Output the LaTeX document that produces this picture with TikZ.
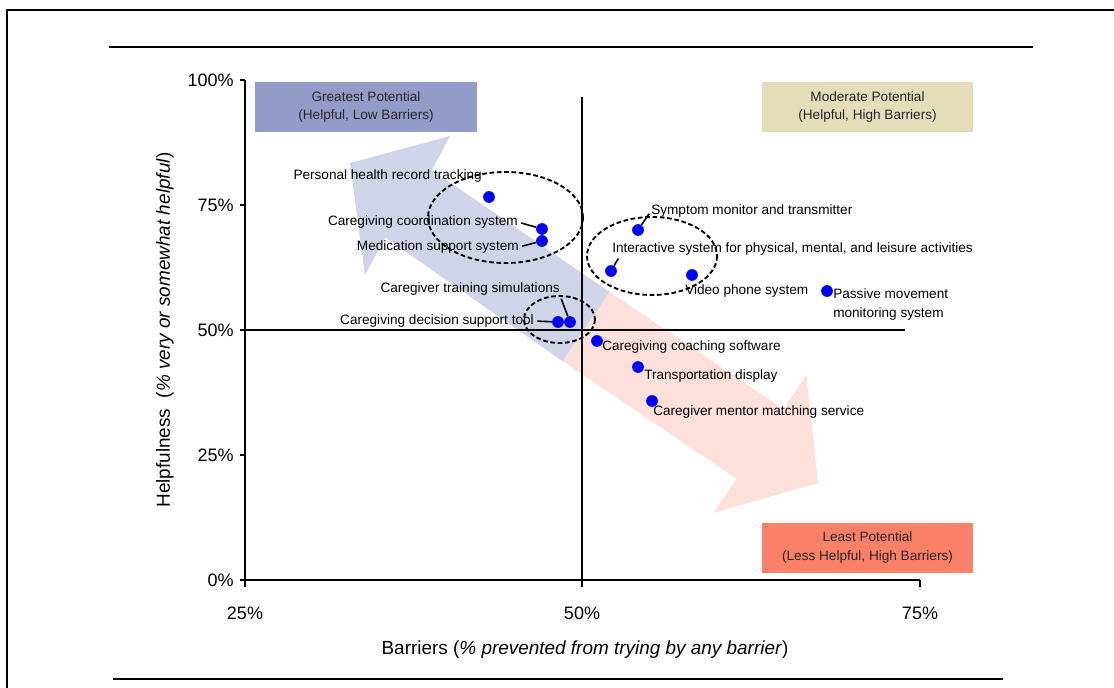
\documentclass[tikz,border=0pt]{standalone}
\usepackage{fontspec}
\setmainfont{Liberation Sans}
\usetikzlibrary{calc}
\definecolor{greatfill}{RGB}{147,156,200}
\definecolor{modfill}{RGB}{227,221,186}
\definecolor{leastfill}{RGB}{250,128,104}
\definecolor{bluearrow}{RGB}{207,212,232}
\definecolor{pinkarrow}{RGB}{253,224,218}
\definecolor{dotblue}{RGB}{0,0,255}
\tikzset{
  dot/.style={circle, fill=dotblue, inner sep=0pt, minimum size=8.8pt},
  lbl/.style={inner sep=0pt, font=\fontsize{10.2}{14}\selectfont},
  quad/.style={inner sep=0pt, align=center, minimum height=37.5pt,
    font=\fontsize{10.2}{14}\selectfont, text=black!85},
  ring/.style={draw, line width=1.4pt, dash pattern=on 3.5pt off 2pt},
  leader/.style={line width=1.2pt, shorten <=2.5pt},
  axisline/.style={line width=1.3pt},
  ticklbl/.style={inner sep=0pt, font=\fontsize{13.5}{16}\selectfont}
}

\begin{document}
\begin{tikzpicture}[x=0.75pt, y=-0.75pt]
  \useasboundingbox (0,0) rectangle (1114,688);

  % frame and rules
  \draw[line width=2pt] (7,688) -- (7,10) -- (1114,10);
  \draw[line width=2.2pt] (109,47) -- (1033,47);
  \draw[line width=1.8pt] (113,679) -- (1003,679);

  % big arrows, same tail
  \fill[pinkarrow] (609.5,292) -- (783.5,409.2) -- (806.4,375.2) -- (818,483)
    -- (713.6,512.8) -- (736.5,478.8) -- (562.5,361) -- cycle;
  \fill[bluearrow] (609.5,292) -- (432,170) -- (450,136) -- (350,163)
    -- (365,275) -- (385.3,237.5) -- (562.5,361) -- cycle;

  % quadrant boxes
  \node[quad, fill=greatfill, minimum width=166.5pt] (qgreat) at (366,107)
    {Greatest Potential\\(Helpful, Low Barriers)};
  \node[quad, fill=modfill, minimum width=158.25pt] (qmod) at (867.5,107)
    {Moderate Potential\\(Helpful, High Barriers)};
  \node[quad, fill=leastfill, minimum width=158.25pt] (qleast) at (867.5,547.5)
    {Least Potential\\(Less Helpful, High Barriers)};

  % axes
  \draw[axisline] (245,80) -- (245,580) -- (920,580);
  \foreach \yy/\tl in {80/100, 205/75, 330/50, 455/25, 580/0} {
    \draw[axisline] (240,\yy) -- (245,\yy);
    \node[ticklbl, anchor=east] (y\tl) at (234,\yy) {\tl\%};
  }
  \foreach \xx/\tl in {245/25, 582/50, 920/75} {
    \draw[axisline] (\xx,580) -- (\xx,587);
    \node[ticklbl] (x\tl) at (\xx,613) {\tl\%};
  }
  \draw[line width=1.1pt] (582,97) -- (582,580);
  \draw[line width=1.1pt] (245,330) -- (905,330);

  \node[ticklbl, font=\fontsize{14.2}{16}\selectfont] (xtitle) at (585,650)
    {Barriers (\textit{\% prevented from trying by any barrier})};
  \node[ticklbl, font=\fontsize{14.2}{16}\selectfont, rotate=90] (ytitle) at (165,330)
    {Helpfulness \ (\textit{\% very or somewhat helpful})};

  % groups
  \draw[ring] (505.5,217.5) ellipse [x radius=77.5, y radius=45.5];
  \draw[ring] (652,256) ellipse [x radius=65, y radius=39];
  \draw[ring] (559.5,319.5) ellipse [x radius=35.5, y radius=23.5];

  % technologies
  \node[dot] (pphr) at (489,197) {};
  \node[dot] (pcoord) at (542,229) {};
  \node[dot] (pmed) at (542,241) {};
  \node[dot] (pdec) at (558,322) {};
  \node[dot] (ptrain) at (570,322) {};
  \node[dot] (psymp) at (638,230) {};
  \node[dot] (pinter) at (611,271) {};
  \node[dot] (pvideo) at (692,275) {};
  \node[dot] (ppass) at (827,291) {};
  \node[dot] (pcoach) at (597,341) {};
  \node[dot] (ptrans) at (638,367) {};
  \node[dot] (pmentor) at (652,401) {};

  \node[lbl, anchor=east] (lphr) at (482,176) {Personal health record tracking};
  \node[lbl, anchor=east] (lcoord) at (518,222) {Caregiving coordination system};
  \node[lbl, anchor=east] (lmed) at (519,247) {Medication support system};
  \node[lbl, anchor=east] (ltrain) at (560,289) {Caregiver training simulations};
  \node[lbl, anchor=east] (ldec) at (534,321) {Caregiving decision support tool};
  \node[lbl, anchor=west] (lsymp) at (651,211) {Symptom monitor and transmitter};
  \node[lbl, anchor=west] (linter) at (612,249)
    {Interactive system for physical, mental, and leisure activities};
  \node[lbl, anchor=west] (lvideo) at (685,291) {Video phone system};
  \node[lbl, anchor=west, align=left] (lpass) at (833,304.5)
    {Passive movement\\monitoring system};
  \node[lbl, anchor=west] (lcoach) at (602,347) {Caregiving coaching software};
  \node[lbl, anchor=west] (ltrans) at (644,376) {Transportation display};
  \node[lbl, anchor=west] (lmentor) at (653,412) {Caregiver mentor matching service};

  \draw[leader] (lcoord.east) -- (pcoord);
  \draw[leader] (lmed.east) -- (pmed);
  \draw[leader] (ltrain.south east) -- (ptrain);
  \draw[leader] (ldec.east) -- (pdec);
  \draw[leader] (lsymp.west) -- (psymp);
  \draw[leader] ([xshift=6pt]linter.south west) -- (pinter);
\end{tikzpicture}
\end{document}
